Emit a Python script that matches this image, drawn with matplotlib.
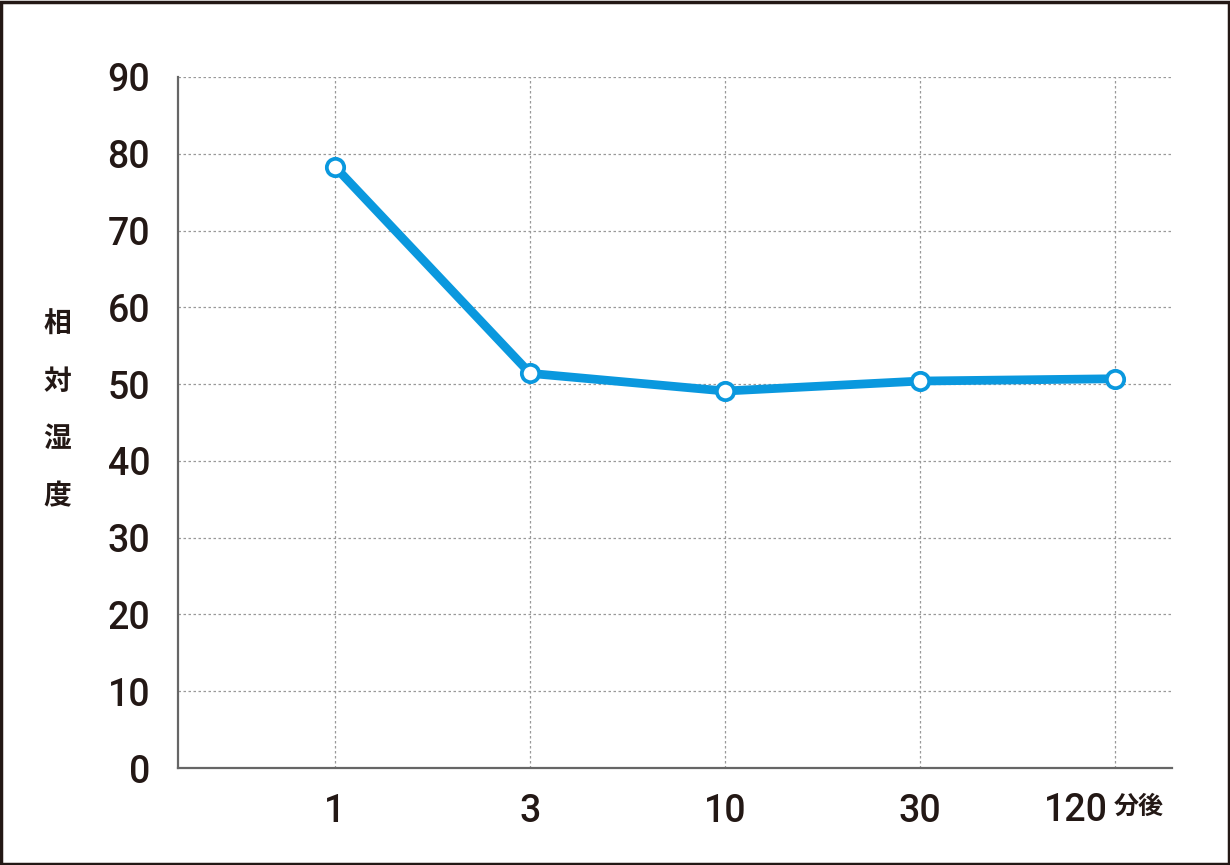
import matplotlib
matplotlib.use("Agg")
import matplotlib.pyplot as plt
from matplotlib.patches import Rectangle

# data
times = ["1", "3", "10", "30", "120"]
humidity = [78.3, 51.4, 49.1, 50.4, 50.7]
y_ticks = [0, 10, 20, 30, 40, 50, 60, 70, 80, 90]

ink = "#231815"
blue = "#0A98DE"

plt.rcParams['font.family'] = ['Roboto', 'DejaVu Sans']
plt.rcParams['font.weight'] = 'medium'

fig = plt.figure(figsize=(12.3, 8.65), dpi=100)
ax = fig.add_axes([0.1447, 0.1121, 0.8081, 0.7989])

x = list(range(len(times)))
ax.plot(x, humidity, color=blue, lw=6.3, marker="o", ms=12.5,
        mfc="white", mec=blue, mew=2.7, zorder=3, solid_capstyle="round")

ax.set_xlim(-0.805, 4.29)
ax.set_ylim(0, 90)
ax.set_xticks(x)
ax.set_xticklabels(times[:-1] + [""])
ax.set_yticks(y_ticks)

ax.grid(True, color="#999999", ls=(0, (2, 2)), lw=0.9)
ax.set_axisbelow(True)

for s in ["top", "right"]:
    ax.spines[s].set_visible(False)
for s in ["left", "bottom"]:
    ax.spines[s].set_color("#666666")
    ax.spines[s].set_linewidth(1.6)

ax.tick_params(length=0, labelsize=27, colors=ink)
ax.tick_params(axis="y", pad=20)
ax.tick_params(axis="x", pad=18)

# last x label shares the line with the unit
ax.annotate(times[-1], xy=(x[-1], 0), xycoords=("data", "axes fraction"),
            xytext=(-5, -30.5), textcoords="offset points", ha="right", va="center",
            fontsize=27, color=ink)
ax.annotate("分後", xy=(x[-1], 0), xycoords=("data", "axes fraction"),
            xytext=(-1, -28), textcoords="offset points", ha="left", va="center",
            fontsize=18, fontweight="bold", color=ink, family=['Noto Sans CJK JP'])

# vertical y label, one character per line
for i, ch in enumerate("相対湿度"):
    fig.text(57 / 1230, 1 - (325 + i * 57) / 865, ch, fontsize=20,
             fontweight="bold", color=ink, ha="center", va="center",
             family=['Noto Sans CJK JP'])

# frame around the whole picture
fig.patches.append(Rectangle((0.001, 0.001), 0.998, 0.997, transform=fig.transFigure,
                             fill=False, ec=ink, lw=2.5))

fig.savefig("out.png", dpi=100)
